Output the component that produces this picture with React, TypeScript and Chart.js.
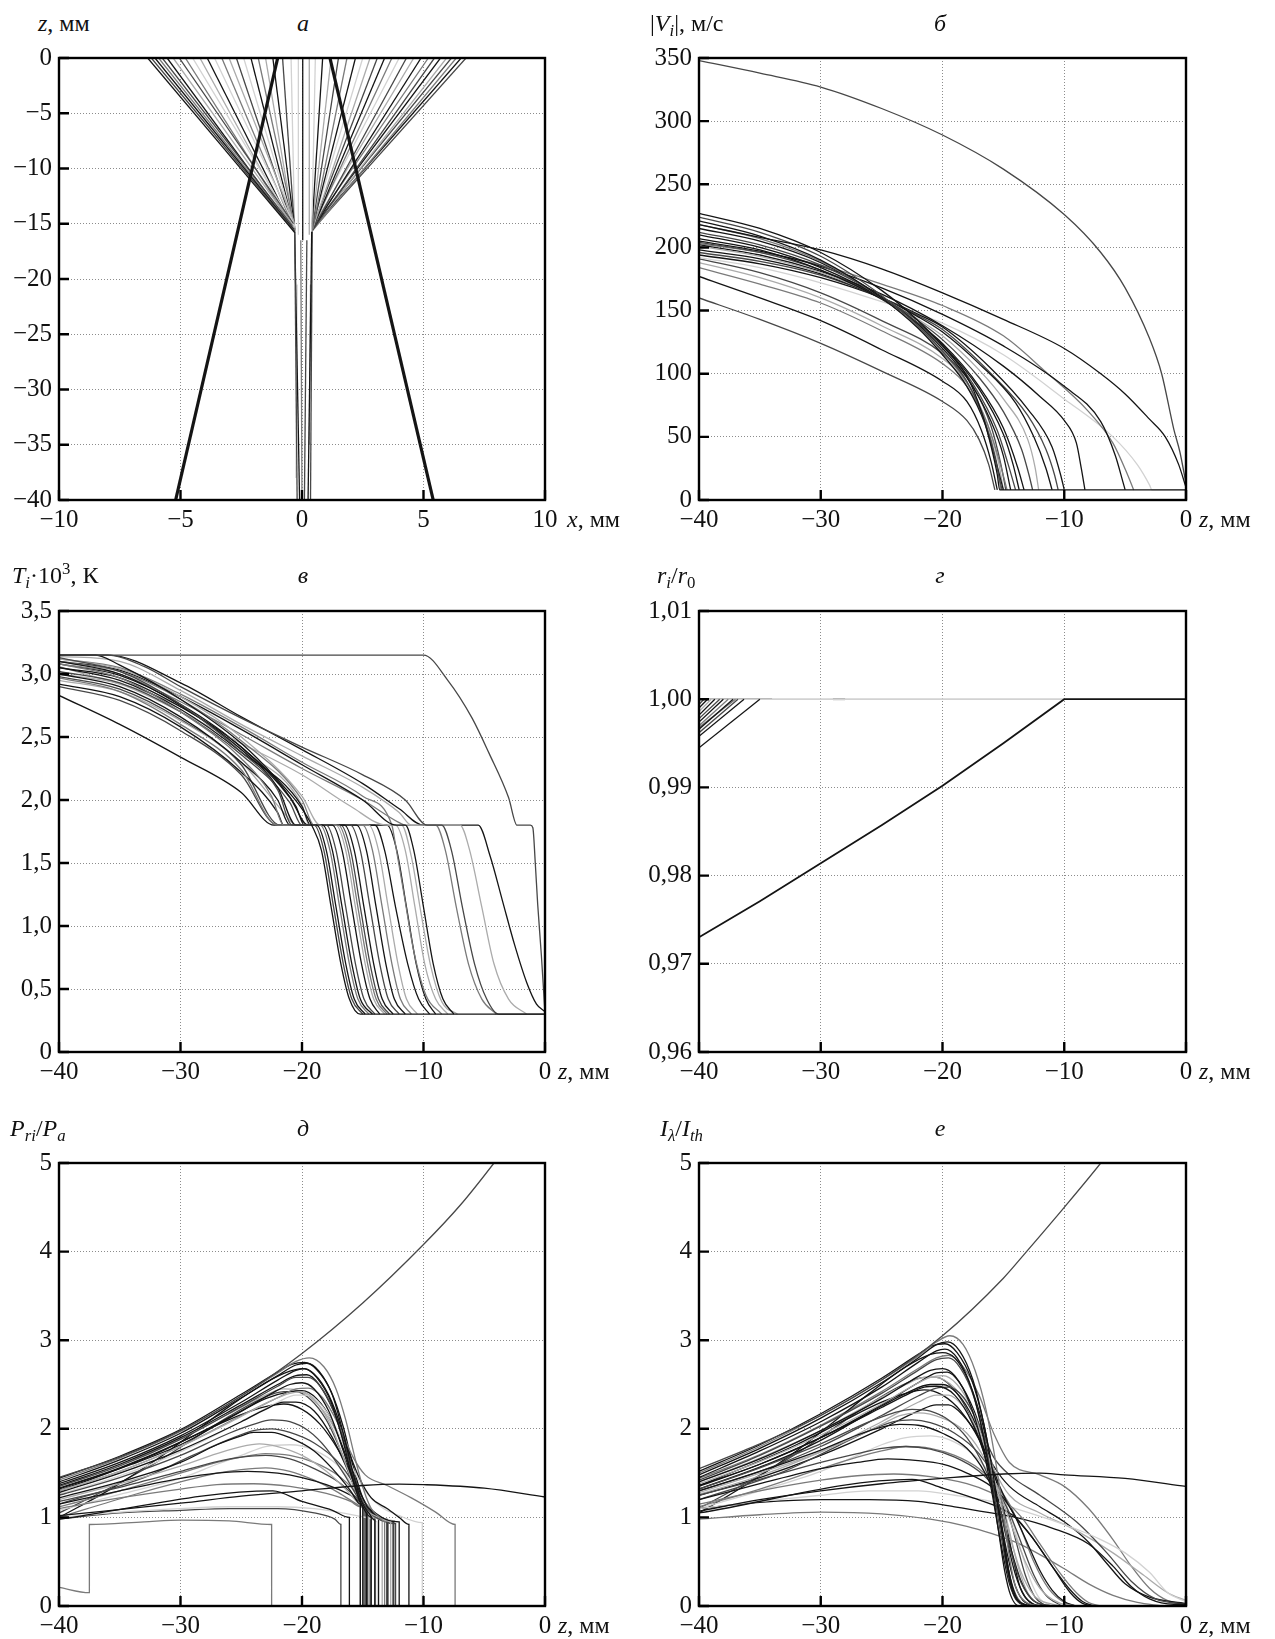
import React, { useEffect, useRef } from 'react';
import { Chart, registerables } from 'chart.js';
Chart.register(...registerables);

const K = '#141414', D = '#474747', M = '#7a7a7a', L = '#ababab', V = '#d2d2d2';

// ---------- Panel а : trajectories x (mm) vs z (mm); each line [x0,z0,x1,z1]
const aThick: number[][] = [[-5.2, -40, -1.0, 0], [5.4, -40, 1.15, 0]];
const aLeft: number[][] = [
  [-0.3, -15.8, -6.35, 0], [-0.3, -15.7, -6.2, 0], [-0.35, -15.5, -6.05, 0], [-0.3, -15.6, -5.9, 0],
  [-0.4, -15.2, -5.75, 0], [-0.3, -15.7, -5.55, 0], [-0.3, -15.4, -5.3, 0], [-0.35, -15.0, -5.05, 0],
  [-0.3, -15.6, -4.8, 0], [-0.3, -15.3, -4.5, 0], [-0.3, -15.7, -4.2, 0], [-0.35, -15.5, -3.9, 0],
  [-0.3, -15.2, -3.6, 0], [-0.3, -15.6, -3.3, 0], [-0.3, -15.0, -3.0, 0], [-0.3, -15.7, -2.7, 0],
  [-0.3, -15.4, -2.4, 0], [-0.3, -15.6, -2.1, 0], [-0.3, -15.3, -1.8, 0], [-0.3, -15.7, -1.5, 0],
  [-0.3, -15.5, -1.2, 0], [-0.3, -15.6, -0.8, 0], [-0.3, -15.7, -0.45, 0],
];
const aLeftColors = [K, D, K, M, D, K, L, D, M, V, L, K, V, M, L, D, V, K, M, L, K, D, V];
const aRight: number[][] = [
  [0.4, -15.7, 0.55, 0], [0.4, -15.6, 0.85, 0], [0.4, -15.5, 1.2, 0], [0.4, -15.7, 1.5, 0],
  [0.45, -15.3, 1.85, 0], [0.4, -15.6, 2.2, 0], [0.4, -15.4, 2.5, 0], [0.4, -15.7, 2.8, 0],
  [0.45, -15.2, 3.1, 0], [0.4, -15.6, 3.4, 0], [0.4, -15.5, 3.7, 0], [0.45, -15.0, 4.0, 0],
  [0.4, -15.7, 4.3, 0], [0.4, -15.4, 4.6, 0], [0.4, -15.6, 4.9, 0], [0.45, -15.2, 5.2, 0],
  [0.4, -15.7, 5.45, 0], [0.4, -15.5, 5.7, 0], [0.4, -15.6, 5.95, 0], [0.45, -15.3, 6.15, 0],
  [0.4, -15.7, 6.35, 0], [0.4, -15.5, 6.55, 0], [0.4, -15.6, 6.75, 0],
];
const aRightColors = [V, K, L, D, M, K, V, L, D, K, M, V, D, L, K, M, D, K, L, D, M, K, D];
const aCore: number[][] = [
  [-0.2, -40, -0.3, -15.7], [-0.1, -40, -0.3, -15.7], [0.0, -40, -0.05, -16.5], [0.1, -40, 0.2, -16.5],
  [0.25, -40, 0.4, -15.7], [0.35, -40, 0.42, -15.7], [-0.25, -38, -0.2, -20.5], [0.3, -35, 0.35, -20.5],
  [0.03, -16.5, 0.03, 0], [-0.15, -16, -0.15, 0], [0.3, -16, 0.3, 0],
];
const aCoreColors = [D, K, M, D, K, D, V, L, K, V, L];

// ---------- Panel б : |V_i| (m/s) vs z
const bTop = [-40, 348, -35, 338, -30, 327, -25, 310, -20, 289, -15, 262, -10, 226, -7, 196, -5, 168, -3, 128, -2, 100, -1, 56, -0.5, 38, 0, 13];
const bSecond = [-40, 218, -35, 208, -30, 198, -25, 183, -20, 164, -15, 143, -10, 120, -7, 100, -5, 84, -3, 64, -1.7, 50, -0.6, 28, 0, 10];
const bCurves: number[][] = [
  [-40, 227, -35, 215, -30, 196, -25, 166, -22, 142, -20, 122, -18, 98, -16.8, 70, -16, 42, -15.5, 20, -15.3, 8, 0, 8],
  [-40, 224, -35, 212, -30, 193, -25, 162, -22, 138, -20, 118, -18, 94, -16.6, 64, -15.8, 38, -15.3, 16, -15.1, 8],
  [-40, 221, -35, 209, -30, 190, -25, 160, -22, 136, -20, 115, -18, 90, -16.5, 60, -15.6, 30, -15.0, 8],
  [-40, 218, -35, 207, -30, 189, -25, 160, -22, 137, -20, 117, -18, 93, -16.3, 60, -15.3, 30, -14.7, 8],
  [-40, 215, -35, 205, -30, 188, -25, 161, -22, 139, -20, 120, -18, 97, -16, 62, -15, 35, -14.4, 8],
  [-40, 212, -35, 202, -30, 186, -25, 161, -22, 140, -20, 122, -17.5, 92, -15.5, 55, -14.6, 28, -14, 8],
  [-40, 210, -35, 200, -30, 184, -25, 160, -22, 140, -20, 123, -17, 88, -15, 52, -14.2, 28, -13.7, 8],
  [-40, 207, -35, 198, -30, 182, -25, 159, -22, 140, -20, 124, -17, 90, -15, 57, -13.8, 25, -13.3, 8],
  [-40, 204, -35, 196, -30, 182, -25, 160, -22, 142, -20, 127, -17, 97, -15, 70, -13.5, 40, -12.9, 20, -12.6, 8],
  [-40, 201, -35, 193, -30, 180, -25, 160, -22, 143, -20, 130, -17, 103, -15, 80, -13, 48, -12.4, 26, -12.1, 8],
  [-40, 198, -35, 191, -30, 179, -25, 160, -22, 145, -20, 133, -17, 108, -14, 77, -12.5, 50, -11.5, 25, -11, 8],
  [-40, 196, -35, 189, -30, 178, -25, 160, -22, 146, -20, 135, -16, 100, -13, 67, -11.5, 40, -10.8, 20, -10.5, 8],
  [-40, 194, -35, 187, -30, 176, -25, 160, -22, 147, -20, 137, -16, 104, -13, 72, -11, 42, -10.3, 20, -10.0, 8],
  [-40, 202, -35, 194, -30, 181, -25, 163, -20, 138, -15, 106, -12, 82, -10, 63, -9, 45, -8.6, 25, -8.3, 8],
  [-40, 205, -35, 197, -30, 185, -25, 168, -20, 147, -15, 122, -10, 90, -7, 62, -5.8, 35, -5.2, 15, -5.0, 8],
  [-40, 203, -35, 196, -30, 186, -25, 171, -20, 154, -15, 130, -11.7, 103, -8, 70, -6, 45, -4.8, 20, -4.3, 8],
  [-40, 192, -35, 184, -30, 172, -25, 157, -20, 140, -15, 115, -10, 80, -6, 50, -4, 28, -3, 12, -2.8, 8, 0, 8],
  [-40, 160, -35, 143, -30, 124, -25, 102, -20, 78, -18, 63, -17, 48, -16.2, 28, -15.7, 8],
  [-40, 177, -35, 160, -30, 142, -25, 119, -20, 94, -18, 78, -16.8, 55, -16, 30, -15.5, 8],
  [-40, 184, -35, 171, -30, 156, -25, 134, -20, 108, -18, 90, -16.5, 62, -15.6, 32, -15.2, 8],
  [-40, 188, -35, 176, -30, 160, -25, 138, -20, 112, -17.8, 90, -16.3, 60, -15.4, 30, -15.0, 8],
  [-40, 191, -35, 180, -30, 164, -25, 142, -20, 116, -17.5, 90, -16, 58, -15.2, 28, -14.8, 8],
];
const bColors = [K, D, K, M, K, D, K, K, D, L, K, D, K, K, K, M, V, D, K, M, L, D];

// ---------- Panel в : T_i·10^3 (K) vs z
const cTop = [-40, 3.15, -10, 3.15, -8, 2.95, -6, 2.65, -4.6, 2.37, -3, 2.02, -2.3, 1.8, -1.2, 1.8, -1.0, 1.78, -0.8, 1.5, -0.6, 1.17, -0.3, 0.77, 0, 0.31];
const cCurves: number[][] = [
  [-40, 3.15, -37, 3.15, -35, 3.07, -30, 2.8, -25, 2.45, -22, 2.16, -20, 1.93, -19.2, 1.8, -18.4, 1.6, -17.6, 1.15, -16.8, 0.7, -16.1, 0.42, -15.2, 0.3, 0, 0.3],
  [-40, 3.13, -35, 3.02, -30, 2.76, -25, 2.38, -22, 2.08, -20.8, 1.8, -19, 1.8, -18.2, 1.6, -17.4, 1.15, -16.6, 0.7, -15.9, 0.42, -15, 0.3],
  [-40, 3.1, -35, 3.0, -30, 2.75, -25, 2.4, -22, 2.1, -20.5, 1.8, -18.8, 1.8, -18, 1.6, -17.2, 1.15, -16.4, 0.7, -15.7, 0.42, -14.8, 0.3],
  [-40, 3.08, -35, 2.97, -30, 2.7, -25, 2.33, -22.5, 2.03, -21.5, 1.8, -18.5, 1.8, -17.7, 1.6, -16.9, 1.15, -16.1, 0.7, -15.4, 0.42, -14.5, 0.3],
  [-40, 3.05, -35, 2.97, -30, 2.74, -25, 2.42, -21, 2.02, -19.5, 1.8, -18.3, 1.8, -17.5, 1.6, -16.7, 1.15, -15.9, 0.7, -15.2, 0.42, -14.2, 0.3],
  [-40, 3.02, -35, 2.93, -30, 2.7, -25, 2.36, -21, 1.98, -20, 1.8, -18, 1.8, -17.2, 1.6, -16.4, 1.15, -15.6, 0.7, -14.9, 0.42, -14, 0.3],
  [-40, 3.0, -35, 2.9, -30, 2.66, -25, 2.3, -22, 2.0, -21, 1.8, -17.5, 1.8, -16.7, 1.6, -15.9, 1.15, -15.1, 0.7, -14.4, 0.42, -13.6, 0.3],
  [-40, 2.97, -35, 2.86, -30, 2.6, -25, 2.24, -22, 1.8, -17, 1.8, -16.2, 1.6, -15.4, 1.15, -14.6, 0.7, -13.9, 0.42, -13, 0.3],
  [-40, 2.95, -35, 2.86, -30, 2.63, -25, 2.3, -21.5, 1.9, -20.5, 1.8, -17.2, 1.8, -16.4, 1.6, -15.6, 1.15, -14.8, 0.7, -14.1, 0.42, -13.2, 0.3],
  [-40, 2.92, -35, 2.82, -30, 2.58, -25, 2.22, -22, 1.9, -21.5, 1.8, -16.5, 1.8, -15.7, 1.6, -14.9, 1.15, -14.1, 0.7, -13.4, 0.42, -12.5, 0.3],
  [-40, 2.9, -35, 2.79, -30, 2.55, -25, 2.2, -22, 1.8, -16, 1.8, -15.2, 1.6, -14.4, 1.15, -13.6, 0.7, -12.9, 0.42, -12, 0.3],
  [-40, 2.83, -35, 2.6, -30, 2.34, -25, 2.06, -22.3, 1.8, -15.5, 1.8, -14.7, 1.6, -13.9, 1.15, -13.1, 0.7, -12.4, 0.42, -11.5, 0.3],
  [-40, 3.1, -35, 3.02, -30, 2.8, -25, 2.47, -20, 2.0, -19, 1.8, -15, 1.8, -14.2, 1.6, -13.4, 1.15, -12.6, 0.7, -11.9, 0.42, -11, 0.3],
  [-40, 3.12, -35, 3.04, -30, 2.82, -25, 2.5, -20, 2.03, -18.5, 1.8, -14.5, 1.8, -13.7, 1.6, -12.9, 1.15, -12.1, 0.7, -11.4, 0.42, -10.5, 0.3],
  [-40, 3.05, -35, 2.95, -30, 2.72, -25, 2.38, -20, 1.95, -19.3, 1.8, -14, 1.8, -13.2, 1.6, -12.3, 1.15, -11.3, 0.7, -10.4, 0.42, -9.5, 0.3],
  [-40, 3.15, -36, 3.15, -33, 3.06, -30, 2.9, -25, 2.65, -20, 2.42, -15, 2.2, -11.5, 2.0, -9.7, 1.8, -8.5, 1.8, -7.7, 1.6, -6.8, 1.15, -5.8, 0.7, -4.8, 0.42, -3.8, 0.3, 0, 0.3],
  [-40, 3.14, -35, 3.1, -30, 2.87, -25, 2.6, -20, 2.35, -15, 2.1, -12, 1.9, -11, 1.8, -7, 1.8, -6.2, 1.6, -5.2, 1.15, -4.2, 0.7, -3.0, 0.42, -1.5, 0.3],
  [-40, 3.1, -35, 3.03, -30, 2.82, -25, 2.56, -20, 2.28, -15, 2.0, -12.2, 1.8, -11.5, 1.8, -10.8, 1.6, -10.0, 1.15, -9.2, 0.7, -8.4, 0.42, -7.5, 0.3],
  [-40, 3.12, -35, 3.05, -30, 2.84, -25, 2.58, -20, 2.3, -15, 2.03, -12.6, 1.8, -12.4, 1.7, -11.6, 1.25, -10.8, 0.8, -9.8, 0.45, -8.5, 0.3],
  [-40, 3.0, -35, 2.92, -30, 2.7, -25, 2.45, -20, 2.2, -16, 1.95, -13, 1.8, -11.8, 1.8, -11, 1.55, -10.2, 1.1, -9.4, 0.68, -8.5, 0.4, -7.2, 0.3],
  [-40, 3.15, -36, 3.15, -30, 2.93, -25, 2.66, -20, 2.4, -15, 2.13, -12, 1.93, -10, 1.8, -5.5, 1.8, -4.5, 1.55, -3.5, 1.2, -2.5, 0.85, -1.5, 0.55, -0.7, 0.38, 0, 0.32],
  [-40, 3.08, -35, 3.0, -30, 2.78, -25, 2.52, -20, 2.25, -15, 2.0, -12, 1.82, -11.5, 1.8, -9, 1.8, -8.2, 1.6, -7.3, 1.15, -6.3, 0.7, -5.2, 0.42, -4, 0.3],
  [-40, 2.98, -35, 2.88, -30, 2.64, -25, 2.28, -21.8, 1.8, -16.8, 1.8, -16, 1.6, -15.2, 1.15, -14.4, 0.7, -13.7, 0.42, -12.8, 0.3],
  [-40, 3.08, -35, 2.99, -30, 2.76, -25, 2.42, -20.5, 1.95, -19.8, 1.8, -13, 1.8, -12.2, 1.6, -11.4, 1.15, -10.6, 0.7, -9.8, 0.42, -9, 0.3],
  [-40, 3.06, -30, 2.74, -25, 2.4, -20, 1.96, -19.4, 1.8, -12.3, 1.8, -11.5, 1.6, -10.7, 1.15, -9.9, 0.7, -9, 0.42, -8, 0.3],
];
const cColors = [K, D, K, M, K, D, K, M, L, K, D, K, M, L, K, D, L, K, M, L, K, M, D, K, L];

// ---------- Panel г : r_i/r_0 vs z
const gMain = [-40, 0.973, -35, 0.9771, -30, 0.9814, -25, 0.9857, -20, 0.9902, -15, 0.995, -10, 1.0, 0, 1.0];
const gCluster: number[][] = [
  [-40, 0.9945, -35, 1.0], [-40, 0.9958, -36.3, 1.0], [-40, 0.9962, -36.8, 1.0], [-40, 0.9966, -37.2, 1.0],
  [-40, 0.997, -37.6, 1.0], [-40, 0.9974, -38.0, 1.0], [-40, 0.9978, -38.3, 1.0], [-40, 0.9982, -38.7, 1.0],
  [-40, 0.9986, -39.0, 1.0], [-40, 0.999, -39.3, 1.0], [-40, 0.9994, -39.6, 1.0], [-40, 0.9968, -37.0, 1.0],
];
const gClusterColors = [K, K, D, K, M, K, D, K, L, K, D, M];
const gFlat: number[][] = [[-40, 1.0, -10, 1.0], [-40, 1.0, -34, 1.0], [-29, 1.0, -28, 1.0]];
const gFlatColors = [V, D, D];

// ---------- Panel д : P_ri/P_a vs z
const dTop = [-40, 1.45, -35, 1.68, -30, 1.98, -25, 2.37, -20, 2.85, -15, 3.42, -10, 4.08, -7, 4.52, -4.2, 5.0, -3.5, 5.13];
const dFlat = [-40, 1.02, -30, 1.16, -25, 1.24, -20, 1.3, -15, 1.36, -12, 1.375, -10, 1.37, -5, 1.33, 0, 1.23];
const dCurves: number[][] = [
  [-40, 1.42, -35, 1.67, -30, 1.97, -25, 2.37, -22, 2.63, -20.5, 2.76, -19.4, 2.8, -18.2, 2.7, -17.2, 2.45, -16.4, 2.1, -15.6, 1.65, -14.9, 1.3, -14.3, 1.1, -13.6, 1.0, -13.2, 0.95, -13.2, 0],
  [-40, 1.4, -35, 1.65, -30, 1.95, -25, 2.35, -22, 2.6, -20.5, 2.72, -19.6, 2.74, -18.6, 2.65, -17.5, 2.38, -16.6, 1.95, -15.8, 1.5, -15.1, 1.18, -14.5, 1.05, -14.0, 0.97, -14.0, 0],
  [-40, 1.38, -35, 1.62, -30, 1.92, -25, 2.3, -22, 2.55, -20.5, 2.66, -19.8, 2.68, -18.8, 2.58, -17.6, 2.3, -16.6, 1.85, -15.8, 1.42, -15.0, 1.12, -14.3, 1.0, -14.3, 0],
  [-40, 1.35, -35, 1.58, -30, 1.88, -25, 2.25, -22, 2.48, -20.5, 2.58, -19.5, 2.58, -18.5, 2.48, -17.4, 2.2, -16.4, 1.78, -15.6, 1.38, -14.8, 1.1, -14.6, 1.05, -14.6, 0],
  [-40, 1.33, -35, 1.56, -30, 1.85, -25, 2.2, -22.5, 2.4, -21, 2.5, -20, 2.52, -19, 2.45, -17.8, 2.2, -16.6, 1.75, -15.6, 1.33, -15.0, 1.12, -15.0, 0],
  [-40, 1.3, -35, 1.52, -30, 1.8, -25, 2.14, -22.5, 2.32, -21, 2.4, -20, 2.42, -18.8, 2.3, -17.5, 2.0, -16.4, 1.6, -15.5, 1.28, -14.8, 1.1, -13.7, 1.0, -12.7, 0.95, -12.7, 0],
  [-40, 1.28, -35, 1.5, -30, 1.76, -25, 2.08, -23, 2.22, -21.5, 2.3, -20.5, 2.3, -19, 2.2, -17.5, 1.9, -16.3, 1.55, -15.4, 1.25, -14.7, 1.08, -14.7, 0],
  [-40, 1.25, -35, 1.45, -30, 1.7, -26, 1.95, -24, 2.05, -22.5, 2.1, -21, 2.08, -19.5, 1.98, -18, 1.78, -16.5, 1.48, -15.3, 1.2, -14.6, 1.07, -12.3, 0.93, -12.3, 0],
  [-40, 1.22, -35, 1.4, -30, 1.62, -27, 1.82, -25, 1.92, -24, 1.96, -22.5, 1.96, -21, 1.9, -19, 1.75, -17.5, 1.55, -16, 1.3, -15.2, 1.15, -15.2, 0],
  [-40, 1.2, -35, 1.38, -30, 1.58, -27, 1.72, -25, 1.8, -23.5, 1.83, -22, 1.8, -20, 1.7, -18, 1.52, -16.5, 1.33, -15.3, 1.15, -14.5, 1.05, -13.4, 0.97, -13.4, 0],
  [-40, 1.18, -35, 1.34, -30, 1.52, -27, 1.63, -25, 1.68, -23, 1.7, -21, 1.66, -19, 1.55, -17, 1.4, -15.5, 1.22, -14.5, 1.08, -14, 1.0, -14, 0],
  [-40, 1.15, -35, 1.3, -30, 1.44, -27, 1.5, -24.5, 1.52, -22, 1.5, -20, 1.45, -18, 1.37, -16, 1.25, -15, 1.15, -14.3, 1.08, -12.5, 0.95, -12.5, 0],
  [-40, 1.1, -35, 1.22, -30, 1.32, -27, 1.37, -24, 1.38, -21, 1.35, -18, 1.27, -16, 1.18, -15.2, 1.12, -15.2, 0],
  [-40, 0.98, -22.4, 1.3, -20, 1.18, -17.5, 1.08, -16.1, 1.0, -16.1, 0],
  [-40, 1.0, -35, 1.06, -30, 1.1, -26, 1.12, -22, 1.12, -19, 1.1, -17, 1.06, -15.5, 1.02, -14.2, 0.98, -13.8, 0.95, -13.8, 0],
  [-40, 0.98, -35, 1.05, -30, 1.08, -26, 1.1, -22, 1.1, -19, 1.05, -17.3, 0.98, -16.8, 0.92, -16.8, 0],
  [-40, 0.21, -37.5, 0.15, -37.5, 0.92, -33, 0.95, -30, 0.97, -26, 0.96, -22.5, 0.92, -22.5, 0],
  [-40, 1.3, -35, 1.52, -30, 1.8, -25, 2.15, -22, 2.35, -20.5, 2.45, -19.5, 2.46, -18.3, 2.35, -17, 2.05, -15.8, 1.68, -14.8, 1.48, -13, 1.36, -11, 1.22, -9, 1.06, -7.4, 0.92, -7.4, 0],
  [-40, 1.36, -35, 1.6, -30, 1.9, -25, 2.27, -22, 2.5, -20.5, 2.6, -19.6, 2.61, -18.6, 2.5, -17.4, 2.2, -16.3, 1.8, -15.3, 1.45, -14.3, 1.22, -13, 1.1, -12, 1.0, -11.2, 0.92, -11.2, 0],
  [-40, 1.26, -35, 1.47, -30, 1.74, -25, 2.08, -22, 2.3, -20.5, 2.38, -19.5, 2.38, -18.3, 2.25, -17, 1.95, -15.8, 1.55, -14.8, 1.3, -13.5, 1.12, -12, 1.02, -10.1, 0.94, -10.1, 0],
  [-40, 1.44, -35, 1.69, -30, 1.99, -25, 2.39, -22, 2.64, -20.8, 2.73, -19.8, 2.75, -18.8, 2.67, -17.6, 2.42, -16.6, 2.02, -15.8, 1.58, -15.0, 1.22, -14.2, 1.05, -13.0, 0.97, -13.0, 0],
  [-40, 1.32, -34, 1.6, -30, 1.82, -26, 2.12, -23, 2.34, -21, 2.42, -20, 2.43, -18.8, 2.34, -17.5, 2.08, -16.4, 1.7, -15.5, 1.32, -14.7, 1.1, -13.7, 1.0, -13.7, 0],
  [-40, 1.12, -35, 1.3, -30, 1.5, -27, 1.62, -25, 1.68, -23, 1.72, -21, 1.7, -19, 1.62, -17, 1.47, -15.5, 1.28, -14.5, 1.12, -12.9, 0.96, -12.9, 0],
  [-40, 1.08, -35, 1.26, -30, 1.44, -27, 1.6, -25, 1.7, -23, 1.8, -21, 1.82, -19, 1.76, -17, 1.58, -15.5, 1.3, -14.5, 1.12, -14.5, 0],
  [-40, 1.3, -36, 1.5, -32, 1.72, -28, 1.98, -25, 2.16, -23, 2.25, -21.5, 2.28, -20, 2.22, -18.5, 2.05, -17, 1.76, -15.8, 1.45, -15, 1.22, -14.3, 1.07, -12, 0.95, -12, 0],
  [-40, 1.15, -33, 1.45, -29, 1.7, -26, 1.88, -24, 1.98, -22.5, 2.0, -21, 1.96, -19, 1.84, -17, 1.62, -15.7, 1.37, -14.9, 1.15, -14.9, 0],
  [-40, 1.35, -35, 1.59, -30, 1.89, -26, 2.17, -23, 2.38, -21.5, 2.45, -20.5, 2.44, -19, 2.32, -17.5, 2.05, -16.3, 1.68, -15.4, 1.33, -14.6, 1.12, -12.4, 0.96, -12.4, 0],
  [-40, 1.0, -34, 1.25, -30, 1.4, -27, 1.5, -25, 1.54, -23, 1.56, -21, 1.52, -19, 1.42, -17, 1.28, -15.5, 1.15, -14.5, 1.07, -13.0, 0.98, -13.0, 0],
  [-40, 1.0, -36, 1.3, -32, 1.65, -29, 1.95, -26, 2.25, -23, 2.52, -21, 2.65, -20, 2.68, -19, 2.62, -17.8, 2.38, -16.7, 1.98, -15.8, 1.52, -15, 1.18, -14.4, 1.04, -14.4, 0],
  [-40, 1.05, -36, 1.32, -32, 1.62, -29, 1.88, -26, 2.14, -23.5, 2.33, -21.5, 2.42, -20.5, 2.42, -19.3, 2.33, -18, 2.1, -16.8, 1.75, -15.8, 1.4, -15, 1.15, -14.8, 1.08, -14.8, 0],
];
const dColors = [M, K, K, D, K, L, K, D, K, L, D, K, M, K, V, D, M, M, K, V, K, K, M, V, K, D, L, M, K, D];

// ---------- Panel е : I_λ/I_th vs z
const eTop = [-40, 1.55, -35, 1.83, -30, 2.15, -25, 2.55, -20, 3.05, -15, 3.7, -13.1, 4.0, -10, 4.5, -7, 5.0, -6.5, 5.09];
const eFlat = [-40, 1.07, -35, 1.2, -30, 1.3, -25, 1.38, -20, 1.44, -15, 1.49, -12, 1.5, -10, 1.48, -5, 1.44, 0, 1.35];
const eCurves: number[][] = [
  [-40, 1.5, -35, 1.8, -30, 2.15, -25, 2.55, -22, 2.82, -20.5, 2.98, -19.4, 3.05, -18.3, 2.95, -17.3, 2.65, -16.4, 2.2, -15.6, 1.6, -15, 1.05, -14.5, 0.55, -14, 0.22, -13.2, 0.05, -12, 0],
  [-40, 1.48, -35, 1.78, -30, 2.12, -25, 2.52, -22, 2.8, -20.5, 2.95, -19.6, 2.98, -18.6, 2.88, -17.5, 2.55, -16.6, 2.05, -15.8, 1.45, -15.2, 0.9, -14.7, 0.45, -14.2, 0.15, -13.5, 0.03, -12.5, 0],
  [-40, 1.45, -35, 1.75, -30, 2.08, -25, 2.47, -22, 2.75, -20.5, 2.88, -19.8, 2.9, -18.8, 2.8, -17.6, 2.45, -16.7, 1.95, -16, 1.4, -15.4, 0.85, -14.9, 0.4, -14.4, 0.12, -13.7, 0, -12.5, 0],
  [-40, 1.42, -35, 1.7, -30, 2.03, -25, 2.4, -22, 2.66, -20.5, 2.78, -19.5, 2.8, -18.5, 2.68, -17.4, 2.35, -16.5, 1.85, -15.8, 1.3, -15.2, 0.8, -14.6, 0.35, -14, 0.08, -13, 0],
  [-40, 1.4, -35, 1.66, -30, 1.98, -25, 2.34, -22.5, 2.55, -21, 2.66, -20, 2.68, -19, 2.6, -17.8, 2.3, -16.7, 1.8, -15.9, 1.25, -15.2, 0.7, -14.5, 0.25, -13.8, 0.05, -12.8, 0],
  [-40, 1.38, -35, 1.63, -30, 1.93, -25, 2.28, -22.5, 2.48, -21, 2.58, -20, 2.6, -18.8, 2.5, -17.5, 2.2, -16.4, 1.75, -15.5, 1.3, -14.6, 0.85, -13.6, 0.4, -12.5, 0.12, -11, 0.02, -10, 0],
  [-40, 1.35, -35, 1.6, -30, 1.9, -25, 2.24, -23, 2.38, -21.5, 2.47, -20.5, 2.48, -19, 2.38, -17.5, 2.05, -16.3, 1.6, -15.4, 1.1, -14.7, 0.6, -14, 0.22, -13.2, 0.04, -12, 0],
  [-40, 1.32, -35, 1.56, -30, 1.83, -26, 2.08, -24, 2.18, -22.5, 2.22, -21, 2.2, -19.5, 2.1, -18, 1.9, -16.5, 1.55, -15.3, 1.1, -14.4, 0.62, -13.5, 0.25, -12.5, 0.06, -11, 0],
  [-40, 1.3, -35, 1.52, -30, 1.76, -27, 1.93, -25, 2.02, -23.5, 2.05, -22, 2.04, -20, 1.95, -18, 1.78, -16.5, 1.5, -15.4, 1.15, -14.5, 0.7, -13.6, 0.3, -12.7, 0.08, -11.5, 0],
  [-40, 1.28, -35, 1.5, -30, 1.74, -27, 1.92, -25, 2.05, -23.5, 2.15, -22, 2.18, -20, 2.12, -18, 1.95, -16.5, 1.65, -15.4, 1.3, -14.3, 0.9, -13.2, 0.5, -12, 0.2, -10.5, 0.04, -9, 0],
  [-40, 1.25, -35, 1.43, -30, 1.62, -27, 1.72, -25, 1.78, -23, 1.8, -21, 1.77, -19, 1.68, -17, 1.52, -15.5, 1.3, -14.5, 1.05, -13.5, 0.7, -12.5, 0.35, -11.5, 0.12, -10.2, 0],
  [-40, 1.2, -35, 1.38, -30, 1.55, -27, 1.62, -24.5, 1.66, -22, 1.64, -20, 1.6, -18, 1.5, -16, 1.35, -15, 1.22, -14, 1.0, -13, 0.7, -12, 0.4, -11, 0.18, -10, 0.05, -9, 0],
  [-40, 1.15, -35, 1.3, -30, 1.42, -27, 1.47, -24, 1.49, -21, 1.46, -18, 1.38, -16, 1.28, -15, 1.2, -13.5, 1.0, -12, 0.7, -10.5, 0.4, -9, 0.15, -8, 0.04, -7, 0],
  [-40, 1.05, -22.5, 1.43, -20, 1.33, -17.5, 1.22, -15.5, 1.12, -14, 1.0, -12.5, 0.75, -11, 0.45, -9.5, 0.18, -8.5, 0.05, -7.5, 0],
  [-40, 1.1, -35, 1.18, -30, 1.25, -26, 1.3, -22, 1.3, -19, 1.25, -16, 1.18, -14, 1.1, -10, 0.92, -7, 0.75, -5, 0.6, -3, 0.38, -1.5, 0.15, 0, 0.05],
  [-40, 0.98, -35, 1.03, -30, 1.06, -25, 1.04, -21, 0.98, -18, 0.9, -16, 0.82, -14, 0.72, -12, 0.58, -10, 0.42, -8, 0.25, -6, 0.12, -4, 0.04, -2, 0],
  [-40, 1.1, -35, 1.17, -30, 1.2, -26, 1.2, -22, 1.18, -19, 1.12, -16, 1.05, -14, 1.0, -11, 0.88, -8, 0.7, -6, 0.45, -4.5, 0.22, -3, 0.08, -1, 0.02, 0, 0.02],
  [-40, 1.3, -35, 1.52, -30, 1.8, -25, 2.15, -22, 2.37, -20.5, 2.46, -19.5, 2.47, -18.3, 2.36, -17, 2.05, -15.8, 1.68, -14.5, 1.48, -12, 1.25, -9, 0.95, -6.5, 0.6, -4.5, 0.28, -2.5, 0.08, 0, 0.02],
  [-40, 1.26, -35, 1.47, -30, 1.74, -25, 2.08, -22, 2.3, -20.5, 2.38, -19.5, 2.38, -18.3, 2.25, -17, 1.95, -15.8, 1.55, -14.5, 1.25, -12, 1.05, -9, 0.85, -6, 0.6, -3.5, 0.35, -1.5, 0.15, 0, 0.06],
  [-40, 1.36, -35, 1.6, -30, 1.9, -25, 2.27, -22, 2.52, -20.5, 2.63, -19.6, 2.64, -18.6, 2.52, -17.4, 2.2, -16.3, 1.75, -15.3, 1.35, -14.2, 1.05, -12.5, 0.75, -11, 0.45, -9.5, 0.15, -8.5, 0.03, -7.5, 0],
  [-40, 1.52, -35, 1.82, -30, 2.17, -25, 2.57, -22, 2.84, -20.8, 2.94, -19.8, 2.96, -18.8, 2.86, -17.6, 2.55, -16.6, 2.05, -15.8, 1.45, -15.1, 0.85, -14.5, 0.35, -14, 0.1, -13.3, 0],
  [-40, 1.32, -34, 1.62, -30, 1.87, -26, 2.18, -23, 2.4, -21, 2.5, -20, 2.5, -18.8, 2.4, -17.5, 2.12, -16.4, 1.7, -15.5, 1.25, -14.8, 0.8, -14, 0.35, -13.2, 0.1, -12.3, 0],
  [-40, 1.12, -35, 1.32, -30, 1.55, -27, 1.68, -25, 1.75, -23, 1.8, -21, 1.78, -19, 1.7, -17, 1.55, -15.5, 1.35, -14.5, 1.15, -13.5, 0.85, -12.5, 0.5, -11.3, 0.2, -10, 0.04, -9, 0],
  [-40, 1.1, -35, 1.3, -30, 1.52, -27, 1.7, -25, 1.82, -23, 1.9, -21, 1.92, -19, 1.85, -17, 1.65, -15.5, 1.35, -14.5, 1.05, -13.6, 0.65, -12.8, 0.3, -12, 0.08, -11, 0],
  [-40, 1.36, -36, 1.58, -32, 1.82, -28, 2.1, -25, 2.3, -23, 2.4, -21.5, 2.44, -20, 2.38, -18.5, 2.2, -17, 1.88, -15.8, 1.5, -15, 1.1, -14.3, 0.6, -13.6, 0.2, -12.8, 0.04, -12, 0],
  [-40, 1.2, -33, 1.52, -29, 1.78, -26, 1.98, -24, 2.08, -22.5, 2.1, -21, 2.07, -19, 1.95, -17, 1.72, -15.7, 1.45, -14.8, 1.15, -14, 0.75, -13.2, 0.35, -12.4, 0.1, -11.5, 0],
  [-40, 1.4, -35, 1.67, -30, 1.98, -26, 2.28, -23, 2.5, -21.5, 2.58, -20.5, 2.58, -19, 2.46, -17.5, 2.18, -16.3, 1.78, -15.4, 1.35, -14.6, 0.9, -13.8, 0.45, -13, 0.15, -12, 0],
  [-40, 1.05, -36, 1.38, -32, 1.75, -29, 2.07, -26, 2.4, -23, 2.7, -21, 2.84, -20, 2.86, -19, 2.8, -17.8, 2.52, -16.7, 2.05, -15.8, 1.45, -15.1, 0.85, -14.5, 0.35, -13.9, 0.08, -13, 0],
  [-40, 1.1, -36, 1.4, -32, 1.72, -29, 2.0, -26, 2.28, -23.5, 2.48, -21.5, 2.58, -20.5, 2.58, -19.3, 2.48, -18, 2.22, -16.8, 1.82, -15.8, 1.3, -15, 0.75, -14.4, 0.3, -13.8, 0.08, -13, 0],
  [-40, 1.25, -35, 1.45, -30, 1.7, -25, 2.0, -22, 2.2, -20.5, 2.27, -19.5, 2.27, -18.3, 2.15, -17, 1.9, -15.8, 1.58, -14.5, 1.35, -12, 1.12, -10, 0.95, -8, 0.72, -6.5, 0.48, -5, 0.25, -3, 0.1, 0, 0.03],
  [-40, 1.44, -35, 1.71, -30, 2.04, -25, 2.42, -22, 2.68, -20.5, 2.8, -19.5, 2.83, -18.3, 2.7, -17, 2.38, -15.8, 1.95, -14.5, 1.62, -12, 1.48, -10, 1.35, -8, 1.1, -6, 0.75, -4.5, 0.45, -3, 0.2, -1.5, 0.06, 0, 0.02],
];
const eColors = [M, K, K, D, K, L, K, D, K, L, D, K, M, K, V, M, K, D, L, K, K, K, M, V, K, D, L, K, D, K, M];

// ---------- tick settings
const xTicksA = { min: -10, max: 10, step: 5 };
const xTicksZ = { min: -40, max: 0, step: 10 };

type Panel = {
  L: number; T: number; W: number; H: number;
  xr: { min: number; max: number; step: number };
  yMin: number; yMax: number; yStep: number; yDec: number;
  curves: number[][]; colors: string[]; widths: number[]; mono: boolean;
};

const ones = (n: number, w: number) => Array.from({ length: n }, () => w);

const COLX = [59, 699];
const COLW = [486, 487];
const ROWY = [58, 611, 1163];
const ROWH = [442, 441, 443];

const panels: Panel[] = [
  {
    L: COLX[0], T: ROWY[0], W: COLW[0], H: ROWH[0], xr: xTicksA, yMin: -40, yMax: 0, yStep: 5, yDec: 0,
    curves: [...aThick, ...aLeft, ...aRight, ...aCore],
    colors: [K, K, ...aLeftColors, ...aRightColors, ...aCoreColors],
    widths: [3.2, 3.2, ...ones(aLeft.length + aRight.length + aCore.length, 1.3)], mono: false,
  },
  {
    L: COLX[1], T: ROWY[0], W: COLW[1], H: ROWH[0], xr: xTicksZ, yMin: 0, yMax: 350, yStep: 50, yDec: 0,
    curves: [bTop, bSecond, ...bCurves], colors: [D, K, ...bColors],
    widths: ones(bCurves.length + 2, 1.3), mono: true,
  },
  {
    L: COLX[0], T: ROWY[1], W: COLW[0], H: ROWH[1], xr: xTicksZ, yMin: 0, yMax: 3.5, yStep: 0.5, yDec: 1,
    curves: [cTop, ...cCurves], colors: [D, ...cColors],
    widths: ones(cCurves.length + 1, 1.3), mono: true,
  },
  {
    L: COLX[1], T: ROWY[1], W: COLW[1], H: ROWH[1], xr: xTicksZ, yMin: 0.96, yMax: 1.01, yStep: 0.01, yDec: 2,
    curves: [gMain, ...gCluster, ...gFlat], colors: [K, ...gClusterColors, ...gFlatColors],
    widths: [1.8, ...ones(gCluster.length, 1.3), 1.8, 1.8, 1.8], mono: false,
  },
  {
    L: COLX[0], T: ROWY[2], W: COLW[0], H: ROWH[2], xr: xTicksZ, yMin: 0, yMax: 5, yStep: 1, yDec: 0,
    curves: [dTop, dFlat, ...dCurves], colors: [D, K, ...dColors],
    widths: ones(dCurves.length + 2, 1.3), mono: true,
  },
  {
    L: COLX[1], T: ROWY[2], W: COLW[1], H: ROWH[2], xr: xTicksZ, yMin: 0, yMax: 5, yStep: 1, yDec: 0,
    curves: [eTop, eFlat, ...eCurves], colors: [D, K, ...eColors],
    widths: ones(eCurves.length + 2, 1.3), mono: true,
  },
];

const WY = 70, PT = 22, PR = 40, HX = 48;
const FONT = '"Liberation Serif", "DejaVu Serif", serif';
const TICK_SIZE = 25;

const fmt = (dec: number) => (v: number | string) => {
  const n = Number(v);
  const r = Math.round(n * 10000) / 10000;
  if (r === 0) return '0';
  const s = Math.abs(r).toFixed(dec).replace('.', ',');
  return (r < 0 ? '\u2212' : '') + s;
};

const toPts = (c: number[]) => {
  const pts: { x: number; y: number }[] = [];
  for (let i = 0; i + 1 < c.length; i += 2) pts.push({ x: c[i], y: c[i + 1] });
  return pts;
};

const framePlugin = {
  id: 'frame',
  afterDatasetsDraw(chart: any) {
    const { ctx, chartArea: a, scales } = chart;
    ctx.save();
    ctx.strokeStyle = '#000';
    ctx.lineWidth = 2.4;
    ctx.beginPath();
    for (const t of scales.y.ticks) {
      const y = scales.y.getPixelForValue(t.value);
      ctx.moveTo(a.left, y);
      ctx.lineTo(a.left + 10, y);
    }
    for (const t of scales.x.ticks) {
      const x = scales.x.getPixelForValue(t.value);
      ctx.moveTo(x, a.bottom);
      ctx.lineTo(x, a.bottom - 10);
    }
    ctx.stroke();
    ctx.strokeRect(a.left, a.top, a.right - a.left, a.bottom - a.top);
    ctx.restore();
  },
};

function makeConfig(p: Panel): any {
  const gridCommon = { color: '#8c8c8c', lineWidth: 1, drawTicks: false };
  return {
    type: 'line',
    data: {
      datasets: p.curves.map((c, i) => ({
        data: toPts(c),
        borderColor: p.colors[i],
        borderWidth: p.widths[i],
        pointRadius: 0,
        fill: false,
        tension: p.mono ? 0.4 : 0,
        cubicInterpolationMode: p.mono ? 'monotone' : 'default',
      })),
    },
    options: {
      animation: false,
      responsive: false,
      maintainAspectRatio: false,
      events: [],
      layout: { padding: { left: 0, top: PT, right: PR, bottom: 0 }, autoPadding: false },
      plugins: { legend: { display: false }, tooltip: { enabled: false } },
      scales: {
        x: {
          type: 'linear', min: p.xr.min, max: p.xr.max,
          ticks: { stepSize: p.xr.step, callback: fmt(0), font: { family: FONT, size: TICK_SIZE }, color: '#111', padding: 5, maxRotation: 0, autoSkip: false },
          grid: gridCommon,
          border: { display: false, dash: [1, 2] },
          afterFit: (s: any) => { s.height = HX; s.paddingLeft = 0; s.paddingRight = 0; },
        },
        y: {
          type: 'linear', min: p.yMin, max: p.yMax,
          ticks: { stepSize: p.yStep, callback: fmt(p.yDec), font: { family: FONT, size: TICK_SIZE }, color: '#111', padding: 7, autoSkip: false },
          grid: gridCommon,
          border: { display: false, dash: [1, 2] },
          afterFit: (s: any) => { s.width = WY; s.paddingTop = 0; s.paddingBottom = 0; },
        },
      },
    },
    plugins: [framePlugin],
  };
}

const txt: React.CSSProperties = {
  position: 'absolute', whiteSpace: 'nowrap', fontFamily: FONT, fontSize: 24, lineHeight: 1, color: '#111',
};
const sub: React.CSSProperties = { fontSize: '70%', verticalAlign: '-0.3em', lineHeight: 0 };
const sup: React.CSSProperties = { fontSize: '70%', verticalAlign: '0.55em', lineHeight: 0 };

export default function App() {
  const refs = useRef<(HTMLCanvasElement | null)[]>([]);
  useEffect(() => {
    const charts = panels.map((p, i) => new Chart(refs.current[i] as HTMLCanvasElement, makeConfig(p)));
    return () => charts.forEach((c) => c.destroy());
  }, []);

  const yTitles: { x: number; y: number; node: React.ReactNode }[] = [
    { x: 38, y: 23, node: <span><i>z</i>, мм</span> },
    { x: 650, y: 23, node: <span>|<i>V</i><sub style={sub}><i>i</i></sub>|, м/с</span> },
    { x: 12, y: 575, node: <span><i>T</i><sub style={sub}><i>i</i></sub>·10<sup style={sup}>3</sup>, К</span> },
    { x: 657, y: 575, node: <span><i>r</i><sub style={sub}><i>i</i></sub>/<i>r</i><sub style={sub}>0</sub></span> },
    { x: 10, y: 1128, node: <span><i>P</i><sub style={sub}><i>ri</i></sub>/<i>P</i><sub style={sub}><i>a</i></sub></span> },
    { x: 660, y: 1128, node: <span><i>I</i><sub style={sub}><i>λ</i></sub>/<i>I</i><sub style={sub}><i>th</i></sub></span> },
  ];
  const letters = ['а', 'б', 'в', 'г', 'д', 'е'];
  const letterX = [303, 940];
  const rowTitleY = [23, 575, 1128];

  return (
    <div style={{ position: 'absolute', left: 0, top: 0, width: 1275, height: 1639, background: '#fff', overflow: 'hidden' }}>
      {panels.map((p, i) => {
        const w = WY + p.W + PR;
        const h = PT + p.H + HX;
        return (
          <canvas
            key={i}
            ref={(el) => { refs.current[i] = el; }}
            width={w}
            height={h}
            style={{ position: 'absolute', left: p.L - WY, top: p.T - PT, width: w, height: h }}
          />
        );
      })}
      {yTitles.map((t, i) => (
        <div key={'yt' + i} style={{ ...txt, left: t.x, top: t.y, transform: 'translateY(-50%)' }}>{t.node}</div>
      ))}
      {letters.map((l, i) => (
        <div key={'lt' + i} style={{ ...txt, left: letterX[i % 2], top: rowTitleY[Math.floor(i / 2)], transform: 'translate(-50%,-50%)', fontStyle: 'italic' }}>{l}</div>
      ))}
      {panels.map((p, i) => (
        <div key={'xt' + i} style={{ ...txt, left: p.L + p.W + (i === 0 ? 22 : 13), top: p.T + p.H + 19, transform: 'translateY(-50%)' }}>
          <i>{i === 0 ? 'x' : 'z'}</i>, мм
        </div>
      ))}
    </div>
  );
}
